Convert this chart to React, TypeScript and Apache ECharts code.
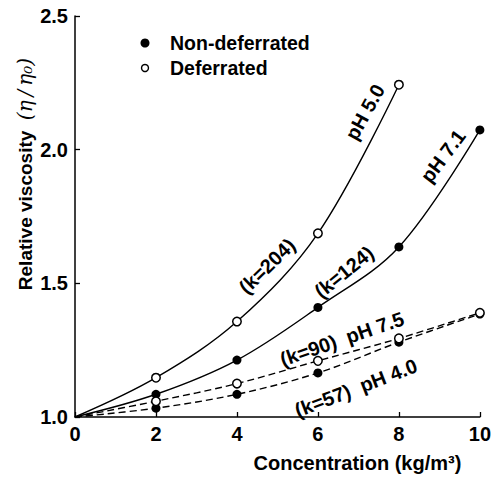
import React, { useEffect, useRef } from "react";
import * as echarts from "echarts";

const concentrations = [0, 2, 4, 6, 8, 10];
const xTicks = [0, 2, 4, 6, 8, 10];
const yTicks = [1.0, 1.5, 2.0, 2.5];

// Deferrated (open circles)
const ph50 = [1.0, 1.147, 1.357, 1.687, 2.243];
const ph75 = [1.0, 1.059, 1.125, 1.21, 1.294, 1.39];
// Non-deferrated (filled circles)
const ph71 = [1.0, 1.085, 1.213, 1.41, 1.636, 2.074];
const ph40 = [1.0, 1.033, 1.085, 1.165, 1.28, 1.385];

const legendItems = ["Non-deferrated", "Deferrated"];
const curveLabels = [
  { text: "pH 5.0", x: 365, y: 112, angle: 61 },
  { text: "pH 7.1", x: 443, y: 156, angle: 53 },
  { text: "(k=204)", x: 267, y: 266, angle: 44 },
  { text: "(k=124)", x: 344, y: 272, angle: 39 },
  { text: "(k=90)  pH 7.5", x: 342, y: 339, angle: 19 },
  { text: "(k=57)  pH 4.0", x: 356, y: 388, angle: 21 },
];

const FONT = "'Liberation Sans', Arial, Helvetica, sans-serif";

function makeData(vals: number[]) {
  return vals.map((v, i) =>
    i === 0 ? { value: [concentrations[i], v], symbol: "none" } : { value: [concentrations[i], v] }
  );
}

function lineSeries(name: string, vals: number[], filled: boolean, dashed: boolean) {
  return {
    name,
    type: "line",
    data: makeData(vals),
    smooth: 0.35,
    symbol: "circle",
    symbolSize: filled ? 9 : 8.5,
    showSymbol: true,
    lineStyle: { color: "#000", width: 1.4, type: dashed ? [7, 4] : "solid" },
    itemStyle: filled
      ? { color: "#000", borderColor: "#000", borderWidth: 0 }
      : { color: "#fff", borderColor: "#000", borderWidth: 1.5 },
    emphasis: { disabled: true },
    z: filled ? 3 : 4,
  };
}

export default function App() {
  const ref = useRef<HTMLDivElement>(null);
  useEffect(() => {
    if (!ref.current) return;
    const chart = echarts.init(ref.current, null, { renderer: "svg" });
    const graphics: any[] = [
      { type: "circle", shape: { cx: 145, cy: 43, r: 4.5 }, style: { fill: "#000" } },
      { type: "circle", shape: { cx: 145, cy: 68, r: 3.5 }, style: { fill: "#fff", stroke: "#000", lineWidth: 1.4 } },
      {
        type: "text",
        x: 170,
        y: 43,
        style: { text: legendItems[0], font: `bold 19.5px ${FONT}`, fill: "#000", verticalAlign: "middle" },
      },
      {
        type: "text",
        x: 170,
        y: 68,
        style: { text: legendItems[1], font: `bold 19.5px ${FONT}`, fill: "#000", verticalAlign: "middle" },
      },
      {
        type: "text",
        x: 25,
        y: 174,
        rotation: Math.PI / 2,
        style: {
          text: "Relative viscosity  {e|(η\u2009/\u2009η₀)}",
          font: `bold 19px ${FONT}`,
          fill: "#000",
          align: "center",
          verticalAlign: "middle",
          rich: {
            e: { fontFamily: "'DejaVu Serif', serif", fontStyle: "italic", fontSize: 20, fontWeight: "normal" },
          },
        },
      },
      ...curveLabels.map((l) => ({
        type: "text",
        x: l.x,
        y: l.y,
        rotation: (l.angle * Math.PI) / 180,
        style: {
          text: l.text,
          font: `bold 20px ${FONT}`,
          fill: "#000",
          align: "center",
          verticalAlign: "middle",
        },
      })),
    ];
    chart.setOption({
      animation: false,
      backgroundColor: "#fff",
      grid: { left: 75, right: 13, top: 16, bottom: 52 },
      xAxis: {
        type: "value",
        min: 0,
        max: 10,
        interval: 2,
        name: "Concentration (kg/m³)",
        nameLocation: "middle",
        nameGap: 36,
        nameTextStyle: { fontFamily: FONT, fontWeight: "bold", fontSize: 20, color: "#000", padding: [0, 0, 0, 160] },
        axisLine: { lineStyle: { color: "#000", width: 1.5 } },
        axisTick: { inside: true, length: 5, lineStyle: { color: "#000", width: 1.3 } },
        axisLabel: {
          fontFamily: FONT,
          fontWeight: "bold",
          fontSize: 20,
          color: "#000",
          margin: 7,
          formatter: (v: number) => (xTicks.includes(v) ? String(v) : ""),
        },
        splitLine: { show: false },
      },
      yAxis: {
        type: "value",
        min: 1.0,
        max: 2.5,
        interval: 0.5,
        axisLine: { show: true, lineStyle: { color: "#000", width: 1.5 } },
        axisTick: { show: true, inside: true, length: 5, lineStyle: { color: "#000", width: 1.3 } },
        axisLabel: {
          fontFamily: FONT,
          fontWeight: "bold",
          fontSize: 20,
          color: "#000",
          margin: 7,
          formatter: (v: number) => (yTicks.some((t) => Math.abs(t - v) < 1e-9) ? v.toFixed(1) : ""),
        },
        splitLine: { show: false },
      },
      series: [
        lineSeries("pH 5.0", ph50, false, false),
        lineSeries("pH 7.1", ph71, true, false),
        lineSeries("pH 7.5", ph75, false, true),
        lineSeries("pH 4.0", ph40, true, true),
      ],
      graphic: graphics,
    });
    return () => chart.dispose();
  }, []);
  return <div ref={ref} style={{ width: 494, height: 478, position: "absolute", left: 0, top: 0 }} />;
}
